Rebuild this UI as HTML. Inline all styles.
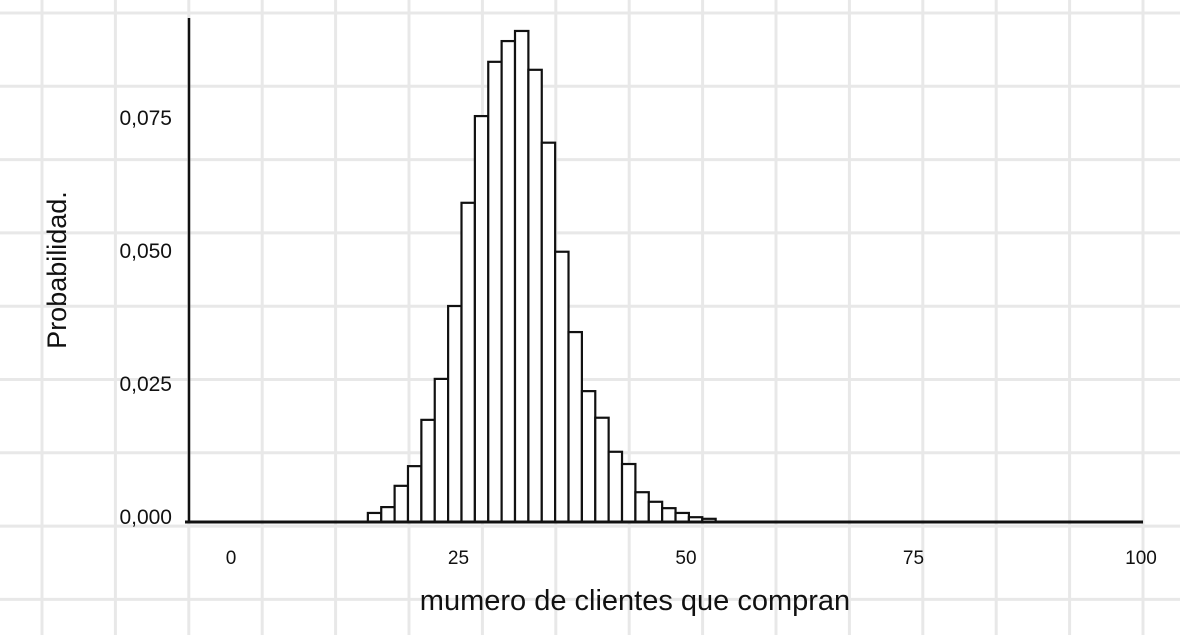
<!DOCTYPE html>
<html><head><meta charset="utf-8">
<style>
html,body{margin:0;padding:0;background:#fff;}
svg{display:block;}
text{font-family:"Liberation Sans",sans-serif;fill:#111;}
</style></head>
<body>
<svg id="chart" width="1180" height="635" viewBox="0 0 1180 635">
<g id="grid"></g>
<g id="bars"></g>
<g id="axes"></g>
</svg>
<script>
const binStart = 14.6;
const binWidth = 1.47;
const probs = [0.0017,0.0028,0.0068,0.0105,0.0192,0.0269,0.0406,0.0600,0.0763,0.0865,0.0904,0.0923,0.0850,0.0713,0.0508,0.0357,0.0246,0.0196,0.0132,0.0109,0.0056,0.0038,0.0026,0.0017,0.0009,0.0006];
const xTicks = [0,25,50,75,100];
const xTickLabels = ["0","25","50","75","100"];
const yTicks = [0,0.025,0.05,0.075];
const yTickLabels = ["0,000","0,025","0,050","0,075"];

const NS="http://www.w3.org/2000/svg";
const X0=189, X1=1143, Y0=522;
function xs(v){return 235+v*9.1;}
function ys(p){return Y0-p/0.025*133;}
function mk(tag,attrs,parent){const e=document.createElementNS(NS,tag);for(const k in attrs)e.setAttribute(k,attrs[k]);parent.appendChild(e);return e;}

const grid=document.getElementById('grid');
for(let i=0;i<17;i++){const x=42+i*73.4;
  const l=mk('line',{x1:x,y1:0,x2:x,y2:635,stroke:'#e8e8e8','stroke-width':3},grid);
  
  }
for(let i=0;i<9;i++){const y=13+i*73.3;
  const l=mk('line',{x1:0,y1:y,x2:1180,y2:y,stroke:'#e8e8e8','stroke-width':3},grid);
  
  }

const bars=document.getElementById('bars');
probs.forEach((p,i)=>{
  const a=xs(binStart+i*binWidth), b=xs(binStart+(i+1)*binWidth);
  const r=mk('rect',{x:a,y:ys(p),width:b-a,height:Y0-ys(p),fill:'#fff',stroke:'#111','stroke-width':2.2},bars);
  
  
});

const axes=document.getElementById('axes');
let l=mk('line',{x1:X0,y1:18,x2:X0,y2:Y0,stroke:'#111','stroke-width':2.5},axes);


l=mk('line',{x1:X0-4,y1:Y0,x2:X1,y2:Y0,stroke:'#111','stroke-width':3},axes);


xTicks.forEach((v,i)=>{
  const t=mk('text',{x:xs(v)-4,y:564,'font-size':19,'text-anchor':'middle'},axes);
  t.textContent=xTickLabels[i];
  
  
});
yTicks.forEach((v,i)=>{
  const t=mk('text',{x:172,y:ys(v)+2,'font-size':21,'text-anchor':'end'},axes);
  t.textContent=yTickLabels[i];
  
  
});
let t=mk('text',{x:635,y:610,'font-size':29,'text-anchor':'middle'},axes);
t.textContent='mumero de clientes que compran';


t=mk('text',{x:0,y:0,'font-size':27,'text-anchor':'middle',transform:'translate(66,270) rotate(-90)'},axes);
t.textContent='Probabilidad.';


</script>
</body></html>
